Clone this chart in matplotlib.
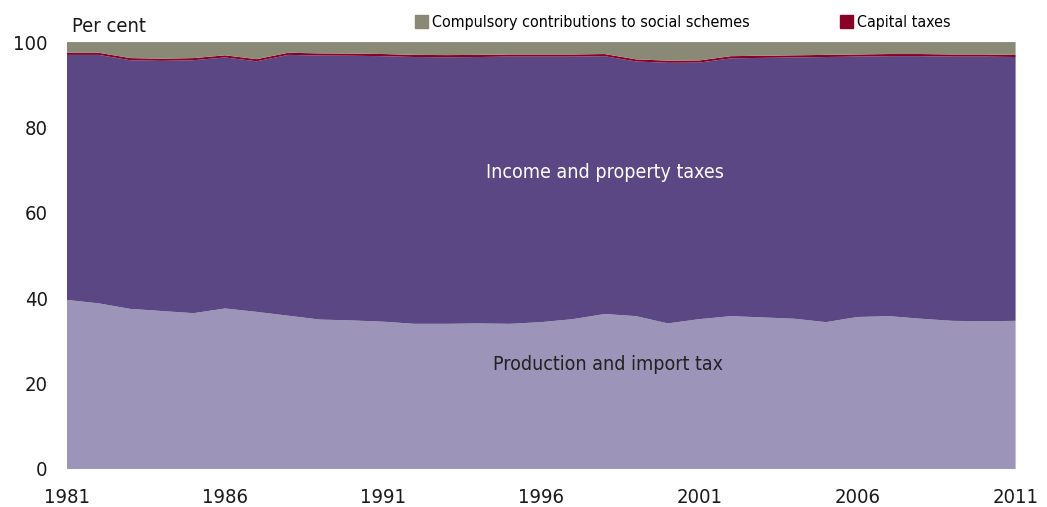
import matplotlib.pyplot as plt
import matplotlib.patches as mpatches

years = list(range(1981, 2012))

production = [39.6, 38.8, 37.5, 37.0, 36.5, 37.6, 36.8, 35.9, 35.0, 34.8,
              34.5, 34.0, 34.0, 34.1, 34.0, 34.4, 35.1, 36.3, 35.8, 34.1,
              35.1, 35.8, 35.5, 35.2, 34.4, 35.6, 35.8, 35.2, 34.7, 34.6, 34.7]
income = [57.4, 58.2, 58.25, 58.6, 59.25, 58.8, 58.7, 61.1, 61.85, 62.0,
          62.2, 62.5, 62.45, 62.4, 62.6, 62.2, 61.5, 60.4, 59.65, 61.05,
          60.1, 60.4, 60.8, 61.2, 62.1, 61.0, 60.9, 61.5, 61.9, 62.0, 61.8]
capital = [0.5] * 31
social = [2.5, 2.5, 3.75, 3.9, 3.75, 3.1, 4.0, 2.5, 2.65, 2.7,
          2.8, 3.0, 3.05, 3.0, 2.9, 2.9, 2.9, 2.8, 4.05, 4.35,
          4.3, 3.3, 3.2, 3.1, 3.0, 2.9, 2.8, 2.8, 2.9, 2.9, 3.0]

xticks = [1981, 1986, 1991, 1996, 2001, 2006, 2011]
yticks = [0, 20, 40, 60, 80, 100]

c_prod = '#9c94b9'
c_inc = '#5a4783'
c_cap = '#8a0026'
c_soc = '#898975'

plt.rcParams['font.family'] = ['DejaVu Sans']
plt.rcParams['font.stretch'] = 'condensed'

fig = plt.figure(figsize=(10.47, 5.07), dpi=100)
ax = fig.add_axes([0.064, 0.075, 0.906, 0.842])

ax.stackplot(years, production, income, capital, social,
             colors=[c_prod, c_inc, c_cap, c_soc], linewidth=0)

ax.set_xlim(1981, 2011)
ax.set_ylim(0, 100)
ax.set_xticks(xticks)
ax.set_yticks(yticks)
ax.tick_params(length=0, labelsize=14.5, colors='#1a1a1a')
ax.tick_params(axis='y', pad=14)
ax.tick_params(axis='x', pad=14)
for s in ax.spines.values():
    s.set_visible(False)

ax.text(1998.0, 69.5, 'Income and property taxes', color='white',
        fontsize=14, ha='center', va='center')
ax.text(1998.1, 24.5, 'Production and import tax', color='#222222',
        fontsize=14, ha='center', va='center')

fig.text(0.069, 0.947, 'Per cent', fontsize=14.5, color='#1a1a1a', ha='left', va='center')

h1 = mpatches.Patch(color=c_soc, label='Compulsory contributions to social schemes')
h2 = mpatches.Patch(color=c_cap, label='Capital taxes')
fig.legend(handles=[h1], loc='center left', bbox_to_anchor=(0.396, 0.955),
           frameon=False, fontsize=11.5, handlelength=0.85, handleheight=0.85,
           handletextpad=0.25, borderpad=0, borderaxespad=0)
fig.legend(handles=[h2], loc='center left', bbox_to_anchor=(0.802, 0.955),
           frameon=False, fontsize=11.5, handlelength=0.85, handleheight=0.85,
           handletextpad=0.25, borderpad=0, borderaxespad=0)

fig.savefig('out.png', dpi=100)
